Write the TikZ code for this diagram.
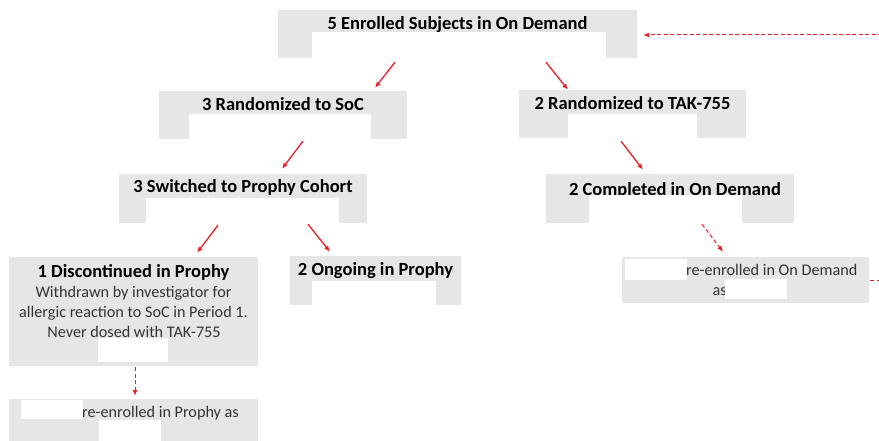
\documentclass[tikz,border=0pt]{standalone}
\usepackage{fontspec}
\setmainfont{Carlito}
\usetikzlibrary{arrows.meta}
\definecolor{boxgray}{RGB}{231,230,230}
\definecolor{flowred}{RGB}{236,28,36}
\tikzstyle{box} = [fill=boxgray, inner sep=0pt]
\tikzstyle{hide} = [fill=white, inner sep=0pt]
\tikzstyle{head} = [anchor=base, inner sep=0pt, font=\fontsize{18.5}{22}\selectfont\bfseries]
\tikzstyle{body} = [anchor=base, inner sep=0pt, text=black!80, font=\fontsize{16.2}{20}\selectfont]
\tikzstyle{line} = [draw=flowred, line width=1.3pt, -{Latex[length=6pt,width=5pt]}]
\tikzstyle{back} = [line, line width=1pt, dash pattern=on 4pt off 2.5pt]

\begin{document}
\begin{tikzpicture}[x=1pt,y=-1pt]
\clip (0,0) rectangle (879,441);
% boxes
\node (top) at (457.5,34) [box, minimum width=359, minimum height=48] {};
\node (soc) at (283,115) [box, minimum width=248, minimum height=48] {};
\node (tak) at (632.5,114) [box, minimum width=227, minimum height=48] {};
\node (switch) at (243,198.5) [box, minimum width=248, minimum height=49] {};
\node (done) at (670,198.5) [box, minimum width=248, minimum height=49] {};
\node (disc) at (133.5,311.5) [box, minimum width=249, minimum height=109] {};
\node (ongo) at (375.5,280.5) [box, minimum width=171, minimum height=49] {};
\node (reod) at (745.5,280) [box, minimum width=247, minimum height=46] {};
\node (reph) at (133.5,422) [box, minimum width=249, minimum height=46] {};
% texts
\node (toptext) at (457.5,30) [head] {5 Enrolled Subjects in On Demand};
\node (soctext) at (283,111) [head] {3 Randomized to SoC};
\node (taktext) at (632.5,110) [head] {2 Randomized to TAK-755};
\node (switchtext) at (243,193) [head] {3 Switched to Prophy Cohort};
\node (donetext) at (675,196) [head] {2 Completed in On Demand};
\node (disctext) at (133.5,277) [head] {1 Discontinued in Prophy};
\node (discline1) at (133.5,298) [body] {Withdrawn by investigator for};
\node (discline2) at (133.5,317.5) [body] {allergic reaction to SoC in Period 1.};
\node (discline3) at (134,337) [body] {Never dosed with TAK-755};
\node (ongotext) at (375.5,275) [head] {2 Ongoing in Prophy};
\node (reodtext) at (686,275) [body, anchor=base west] {re-enrolled in On Demand};
\node (reodas) at (712.5,295) [body, anchor=base west] {as};
\node (rephtext) at (82,417) [body, anchor=base west] {re-enrolled in Prophy as};
% white patches
\node (topw) at (459,45) [hide, minimum width=294, minimum height=26] {};
\node (socw) at (280,126.5) [hide, minimum width=182, minimum height=25] {};
\node (takw) at (632.5,126) [hide, minimum width=129, minimum height=24] {};
\node (switchw) at (242.5,210.5) [hide, minimum width=193, minimum height=25] {};
\node (donew) at (665.5,209) [hide, minimum width=153, minimum height=28] {};
\node (discw) at (133,350) [hide, minimum width=70, minimum height=24] {};
\node (ongow) at (374,293) [hide, minimum width=124, minimum height=24] {};
\node (reodw1) at (656,269.5) [hide, minimum width=62, minimum height=21] {};
\node (reodw2) at (756,289) [hide, minimum width=62, minimum height=20] {};
\node (rephw1) at (52,409.5) [hide, minimum width=62, minimum height=19] {};
\node (rephw2) at (130,432) [hide, minimum width=62, minimum height=24] {};
\coordinate (loop) at (900,0);
% draw lines
\path [line] ([shift={(-62.5,4)}]top.south) -- ([shift={(92,-3)}]soc.north);
\path [line] ([shift={(88.5,4)}]top.south) -- ([shift={(-64.5,0)}]tak.north);
\path [line] ([shift={(20,2)}]soc.south) -- ([shift={(39,-5)}]switch.north);
\path [line] ([shift={(-11.5,3)}]tak.south) -- ([shift={(-27,-4)}]done.north);
\path [line] ([shift={(-25,2)}]switch.south) -- ([shift={(63.5,-4)}]disc.north);
\path [line] ([shift={(65,1)}]switch.south) -- ([shift={(-45.5,-4)}]ongo.north);

\path [back] ([shift={(32,1)}]done.south) -- ([shift={(-22.5,-5)}]reod.north);
\path [back] ([shift={(1.5,1)}]disc.south) -- ([shift={(1.5,-3)}]reph.north);
\path [back] ([xshift=1]reod.east) -- (reod.east -| loop) |- ([shift={(6,1)}]top.east);
\end{tikzpicture}
\end{document}
